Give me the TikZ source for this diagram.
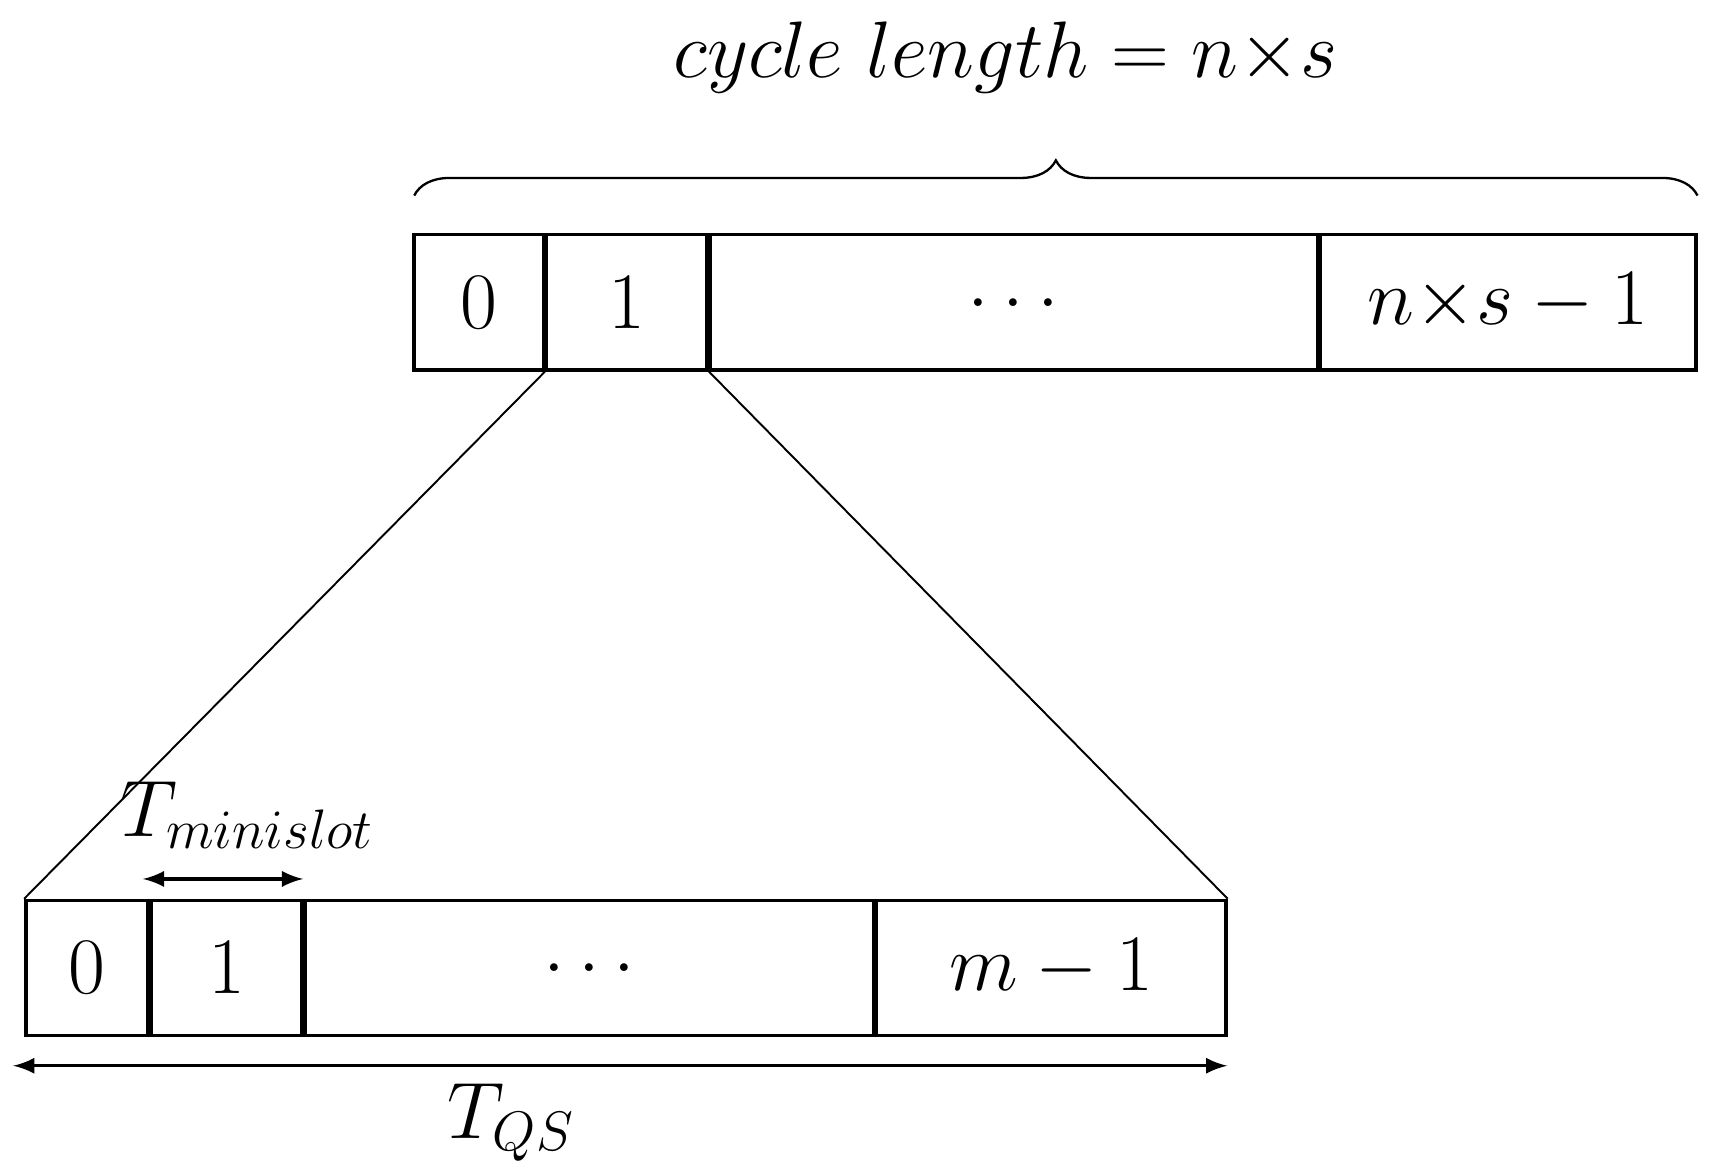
\documentclass[tikz,border=0pt]{standalone}
\usetikzlibrary{arrows,decorations.pathreplacing}
\begin{document}
\begin{tikzpicture}[x=0.01cm, y=-0.01cm,
    >=stealth, %
    font=\fontsize{20}{24}\selectfont,
    cell/.style={draw, line width=0.9pt, rectangle, inner sep=0pt, anchor=north west, minimum height=1.23cm},
    zoom/.style={line width=0.5pt},
    span/.style={line width=0.9pt, <->, >=latex},
]
    \useasboundingbox (0,0) rectangle (1560,1068);

    % Cycle of slots
    \node[cell, minimum width=1.18cm]  (t0) at (375,212) {$0$};
    \node[cell, minimum width=1.46cm]  (t1) at (496,212) {$1$};
    \node[cell, minimum width=5.52cm]  (t2) at (645,212) {$\ldots$};
    \node[cell, minimum width=3.42cm]  (t3) at (1200,212) {$n{\times}s-1$};

    % Brace over cycle
    \coordinate (bl) at (377,178);
    \coordinate (br) at (1545,178);
    \draw[line width=0.6pt, decoration={brace, amplitude=0.32cm, aspect=0.5}, decorate] (bl) -- (br);
    \node (cycle) at (915,52) {$cycle\ length=n{\times}s$};

    % Minislots
    \node[cell, minimum width=1.11cm]  (b0) at (22,818) {$0$};
    \node[cell, minimum width=1.37cm]  (b1) at (136,818) {$1$};
    \node[cell, minimum width=5.17cm]  (b2) at (276,818) {$\ldots$};
    \node[cell, minimum width=3.18cm]  (b3) at (796,818) {$m-1$};

    % Zoom lines
    \draw[zoom] (t1.south west) -- (b0.north west);
    \draw[zoom] (t1.south east) -- (b3.north east);

    % Durations
    \coordinate (ml) at (130,800);
    \coordinate (mr) at (276,800);
    \draw[span] (ml) -- (mr);
    \node (tmini) at (225,742) {$T_{minislot}$};

    \coordinate (ql) at (12,970);
    \coordinate (qr) at (1117,970);
    \draw[span] (ql) -- (qr);
    \node (tqs) at (465,1022) {$T_{QS}$};
\end{tikzpicture}
\end{document}
